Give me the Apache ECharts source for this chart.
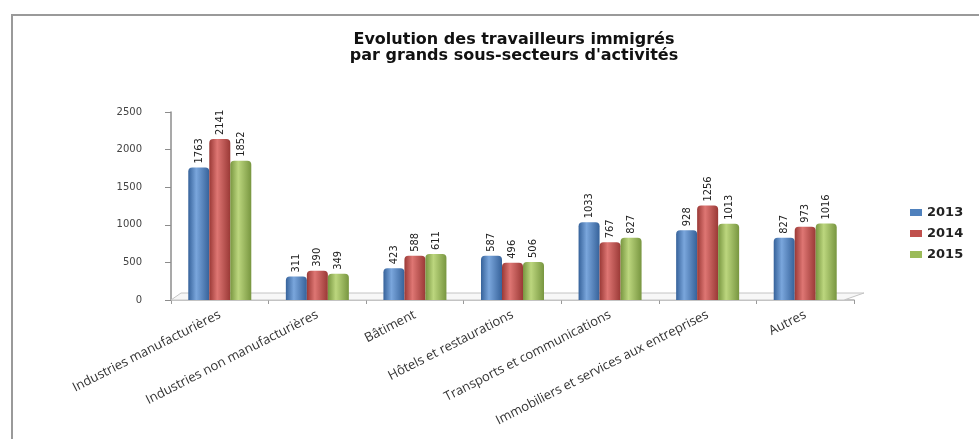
<!DOCTYPE html>
<html lang="fr">
<head>
    <meta charset="UTF-8">
    <title>Evolution des travailleurs immigrés</title>
    <script src="https://cdn.jsdelivr.net/npm/echarts@6/dist/echarts.min.js"></script>
    <style>
html, body {
    margin: 0;
    padding: 0;
    background: #fff;
}
#chart {
    width: 979px;
    height: 439px;
}
    </style>
</head>
<body>
<div id="chart"></div>
<script type="text/javascript">
    var categories = ['Industries manufacturières', 'Industries non manufacturières', 'Bâtiment',
        'Hôtels et restaurations', 'Transports et communications',
        'Immobiliers et services aux entreprises', 'Autres'];
    var years = ['2013', '2014', '2015'];
    var v2013 = [1763, 311, 423, 587, 1033, 928, 827];
    var v2014 = [2141, 390, 588, 496, 767, 1256, 973];
    var v2015 = [1852, 349, 611, 506, 827, 1013, 1016];
    var yTicks = [0, 500, 1000, 1500, 2000, 2500];

    // couleurs : [bord sombre, reflet clair, couleur de base]
    var palette = [
        ['#36629a', '#7aa6dc', '#4f81bd'],
        ['#9a3936', '#de7673', '#c0504d'],
        ['#789640', '#bcd67e', '#9bbb59']
    ];

    function cylinder(c) {
        return new echarts.graphic.LinearGradient(0, 0, 1, 0, [
            {offset: 0, color: c[0]},
            {offset: 0.38, color: c[1]},
            {offset: 1, color: c[0]}
        ]);
    }

    function serie(name, data, i) {
        return {
            name: name,
            type: 'bar',
            data: data,
            barWidth: 21,
            barGap: '0%',
            z: 3,
            itemStyle: {
                color: cylinder(palette[i]),
                borderRadius: [4, 4, 0, 0]
            },
            label: {
                show: true,
                position: 'top',
                rotate: 90,
                align: 'left',
                verticalAlign: 'middle',
                distance: 4,
                fontFamily: '"Liberation Sans Narrow", "DejaVu Sans Condensed", "Liberation Sans"',
                fontSize: 11,
                color: '#222'
            }
        };
    }

    var gridLeft = 171, gridRight = 125, gridTop = 112, gridBottom = 139;

    var myChart = echarts.init(document.getElementById('chart'));
    myChart.setOption({
        animation: false,
        title: {
            text: 'Evolution des travailleurs immigrés\npar grands sous-secteurs d\'activités',
            left: 509,
            top: 27,
            textAlign: 'center',
            textStyle: {
                fontFamily: '"DejaVu Sans"',
                fontWeight: 'bold',
                fontSize: 16,
                lineHeight: 16,
                color: '#111'
            }
        },
        legend: {
            orient: 'vertical',
            left: 905,
            top: 201,
            itemWidth: 12,
            itemHeight: 7,
            itemGap: 8,
            icon: 'rect',
            data: [
                {name: years[0], itemStyle: {color: palette[0][2]}},
                {name: years[1], itemStyle: {color: palette[1][2]}},
                {name: years[2], itemStyle: {color: palette[2][2]}}
            ],
            textStyle: {
                fontFamily: '"DejaVu Sans"',
                fontWeight: 'bold',
                fontSize: 13,
                color: '#222'
            }
        },
        grid: {
            left: gridLeft,
            right: gridRight,
            top: gridTop,
            bottom: gridBottom
        },
        xAxis: {
            type: 'category',
            data: categories,
            axisLine: {
                lineStyle: {color: '#b0b0b0', width: 1.5}
            },
            axisTick: {
                show: true,
                length: 4,
                lineStyle: {color: '#999'}
            },
            axisLabel: {
                interval: 0,
                rotate: 27,
                margin: 14,
                fontFamily: '"Open Sans"',
                fontSize: 13,
                color: '#333'
            }
        },
        yAxis: {
            type: 'value',
            min: yTicks[0],
            max: yTicks[yTicks.length - 1],
            interval: 500,
            splitLine: {show: false},
            axisLine: {
                show: true,
                lineStyle: {color: '#8c8c8c', width: 1.5}
            },
            axisTick: {
                show: true,
                length: 6,
                lineStyle: {color: '#8c8c8c'}
            },
            axisLabel: {
                margin: 29,
                fontFamily: '"DejaVu Sans"',
                fontSize: 10,
                color: '#444',
                formatter: function (v) { return String(v); }
            }
        },
        series: [
            serie(years[0], v2013, 0),
            serie(years[1], v2014, 1),
            serie(years[2], v2015, 2)
        ]
    });

    // cadre et plancher 3D (décor)
    var y0 = myChart.convertToPixel({yAxisIndex: 0}, 0);
    var xL = gridLeft, xR = 979 - gridRight;
    myChart.setOption({
        graphic: [
            {
                type: 'polyline',
                z: 0,
                shape: {points: [[12, 439], [12, 15], [979, 15]]},
                style: {stroke: '#9a9a9a', lineWidth: 2, fill: null}
            },
            {
                type: 'polygon',
                z: 1,
                shape: {points: [[xL, y0], [xR - 10, y0], [xR + 10, y0 - 7], [xL + 10, y0 - 7]]},
                style: {fill: '#f7f7f7', stroke: '#c4c4c4', lineWidth: 1}
            }
        ]
    });
</script>
</body>
</html>
